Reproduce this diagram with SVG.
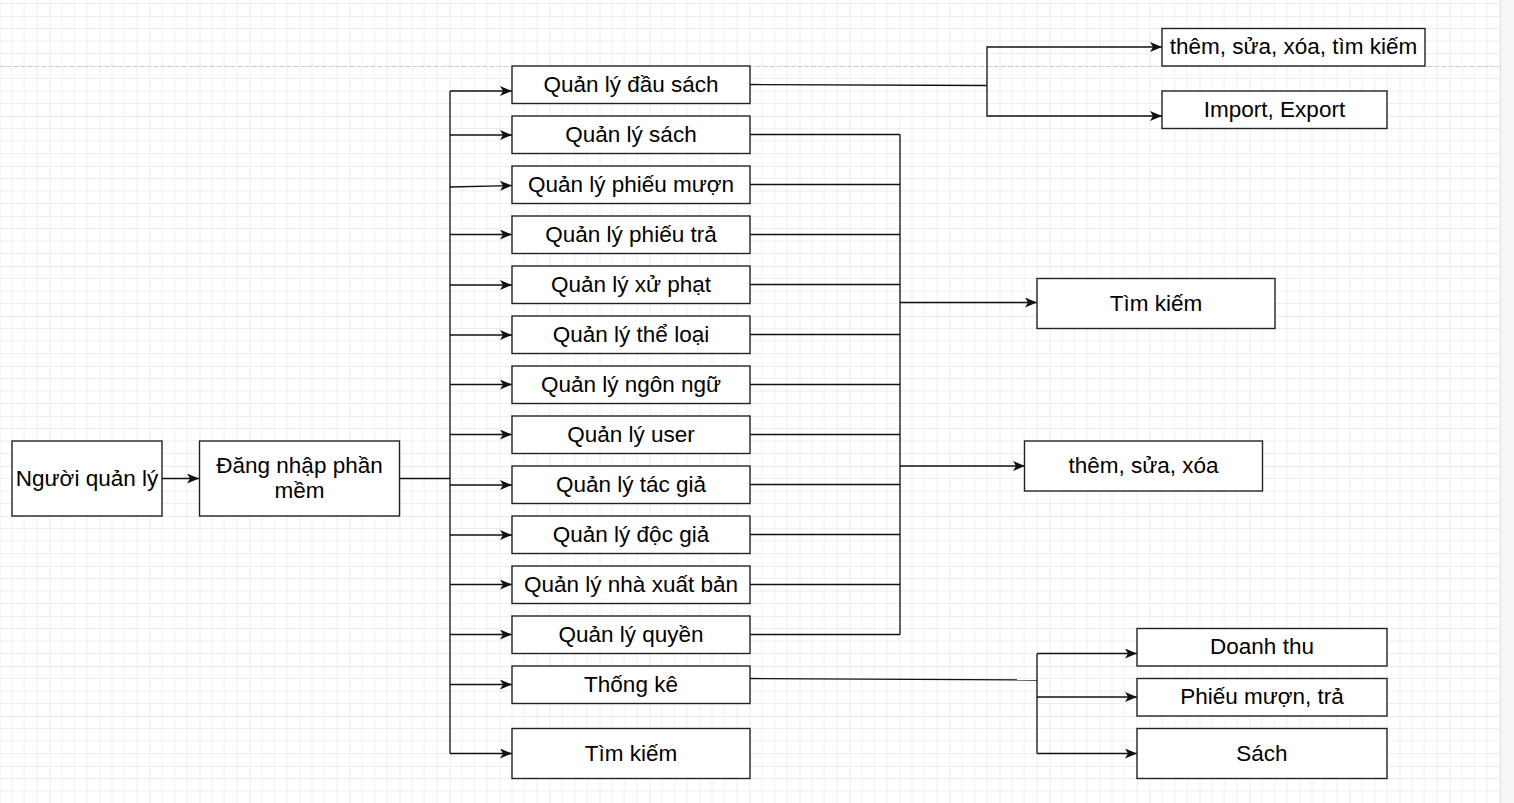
<svg xmlns="http://www.w3.org/2000/svg" width="1514" height="803" viewBox="0 0 1514 803">
<style>
.box{fill:#ffffff;stroke:#222222;stroke-width:1.4}
.lbl{font-family:"Liberation Sans",Arial,sans-serif;font-size:22.5px;fill:#000000;text-anchor:middle}
.ln{fill:none;stroke:#111111;stroke-width:1.3}
.ar{fill:none;stroke:#111111;stroke-width:1.3;marker-end:url(#arr)}
</style>
<defs>
<pattern id="grid" patternUnits="userSpaceOnUse" x="-0.5" y="16" width="50" height="50">
<path d="M12.5,0V50M25,0V50M37.5,0V50M0,12.5H50M0,25H50M0,37.5H50" stroke="#efefef" stroke-width="1" fill="none"/>
<path d="M0,0V50M0,0H50" stroke="#dadada" stroke-width="1" fill="none"/>
</pattern>
<marker id="arr" viewBox="0 0 12 10" refX="12" refY="5" markerUnits="userSpaceOnUse" markerWidth="12" markerHeight="10" orient="auto">
<path d="M0,0L12,5L0,10L3,5Z" fill="#111111"/>
</marker>
</defs>
<rect x="0" y="0" width="1514" height="803" fill="#ffffff"/>
<rect x="0" y="0" width="1500" height="803" fill="url(#grid)"/>
<rect x="1500" y="0" width="14" height="803" fill="#f6f6f8"/>
<line x1="1500.5" y1="0" x2="1500.5" y2="803" stroke="#e2e2e2" stroke-width="1"/>
<line x1="0" y1="66.5" x2="1500" y2="66.5" stroke="#c9c9c9" stroke-width="1.2" stroke-dasharray="4,3"/>

<g id="connectors">
<path class="ar" d="M162,478.5H199"/>
<path class="ln" d="M399,478.5H450"/>
<path class="ln" d="M450,91V753.5"/>
<path class="ar" d="M450,91H512"/>
<path class="ar" d="M450,135H512"/>
<path class="ar" d="M450,187L512,185.5"/>
<path class="ar" d="M450,234.5H512"/>
<path class="ar" d="M450,285H512"/>
<path class="ar" d="M450,335H512"/>
<path class="ar" d="M450,384.5H512"/>
<path class="ar" d="M450,434.5H512"/>
<path class="ar" d="M450,485H512"/>
<path class="ar" d="M450,535H512"/>
<path class="ar" d="M450,584.5H512"/>
<path class="ar" d="M450,634.5H512"/>
<path class="ar" d="M450,684.5H512"/>
<path class="ar" d="M450,753.5H512"/>

<path class="ln" d="M750,84.5L987,85.5"/>
<path class="ar" d="M987,85.5V47H1162"/>
<path class="ar" d="M987,85.5V116H1162"/>

<path class="ln" d="M750,134.5H900M750,184.5H900M750,234.5H900M750,284.5H900M750,334.5H900M750,384.5H900M750,434.5H900M750,484.5H900M750,534.5H900M750,584.5H900M750,634.5H900"/>
<path class="ln" d="M900,134.5V634.5"/>
<path class="ar" d="M900,302.5H1037"/>
<path class="ar" d="M900,466H1025"/>

<path class="ln" d="M750,678.5L1037,680"/>
<path class="ln" d="M1037,653.5V753.5"/>
<path class="ar" d="M1037,653.5H1137"/>
<path class="ar" d="M1037,697H1137"/>
<path class="ar" d="M1037,753.5H1137"/>
</g>

<g id="n-nguoi"><rect class="box" x="12" y="441" width="150" height="75"/><text class="lbl" x="87" y="485.5">Người quản lý</text></g>
<g id="n-dangnhap"><rect class="box" x="199.5" y="441" width="200" height="75"/><text class="lbl" x="299.5" y="473">Đăng nhập phần</text><text class="lbl" x="299.5" y="498">mềm</text></g>

<g id="n-dausach"><rect class="box" x="512" y="66" width="238" height="37.5"/><text class="lbl" x="631" y="91.5">Quản lý đầu sách</text></g>
<g id="n-sach"><rect class="box" x="512" y="116" width="238" height="37.5"/><text class="lbl" x="631" y="141.5">Quản lý sách</text></g>
<g id="n-phieumuon"><rect class="box" x="512" y="166" width="238" height="37.5"/><text class="lbl" x="631" y="191.5">Quản lý phiếu mượn</text></g>
<g id="n-phieutra"><rect class="box" x="512" y="216" width="238" height="37.5"/><text class="lbl" x="631" y="241.5">Quản lý phiếu trả</text></g>
<g id="n-xuphat"><rect class="box" x="512" y="266" width="238" height="37.5"/><text class="lbl" x="631" y="291.5">Quản lý xử phạt</text></g>
<g id="n-theloai"><rect class="box" x="512" y="316" width="238" height="37.5"/><text class="lbl" x="631" y="341.5">Quản lý thể loại</text></g>
<g id="n-ngonngu"><rect class="box" x="512" y="366" width="238" height="37.5"/><text class="lbl" x="631" y="391.5">Quản lý ngôn ngữ</text></g>
<g id="n-user"><rect class="box" x="512" y="416" width="238" height="37.5"/><text class="lbl" x="631" y="441.5">Quản lý user</text></g>
<g id="n-tacgia"><rect class="box" x="512" y="466" width="238" height="37.5"/><text class="lbl" x="631" y="491.5">Quản lý tác giả</text></g>
<g id="n-docgia"><rect class="box" x="512" y="516" width="238" height="37.5"/><text class="lbl" x="631" y="541.5">Quản lý độc giả</text></g>
<g id="n-nxb"><rect class="box" x="512" y="566" width="238" height="37.5"/><text class="lbl" x="631" y="591.5">Quản lý nhà xuất bản</text></g>
<g id="n-quyen"><rect class="box" x="512" y="616" width="238" height="37.5"/><text class="lbl" x="631" y="641.5">Quản lý quyền</text></g>
<g id="n-thongke"><rect class="box" x="512" y="666" width="238" height="37.5"/><text class="lbl" x="631" y="691.5">Thống kê</text></g>
<g id="n-timkiem1"><rect class="box" x="512" y="728.5" width="238" height="50"/><text class="lbl" x="631" y="760.5">Tìm kiếm</text></g>

<g id="n-themsuaxoatim"><rect class="box" x="1162" y="28.5" width="263" height="37.5"/><text class="lbl" x="1293.5" y="54">thêm, sửa, xóa, tìm kiếm</text></g>
<g id="n-import"><rect class="box" x="1162" y="91" width="225" height="37.5"/><text class="lbl" x="1274.5" y="116.5">Import, Export</text></g>
<g id="n-timkiem2"><rect class="box" x="1037" y="278.5" width="238" height="50"/><text class="lbl" x="1156" y="310.5">Tìm kiếm</text></g>
<g id="n-themsuaxoa"><rect class="box" x="1024.5" y="441" width="238" height="50"/><text class="lbl" x="1143.5" y="473">thêm, sửa, xóa</text></g>
<g id="n-doanhthu"><rect class="box" x="1137" y="628.5" width="250" height="37.5"/><text class="lbl" x="1262" y="654">Doanh thu</text></g>
<g id="n-phieumuontra"><rect class="box" x="1137" y="678.5" width="250" height="37.5"/><text class="lbl" x="1262" y="704">Phiếu mượn, trả</text></g>
<g id="n-sach2"><rect class="box" x="1137" y="728.5" width="250" height="50"/><text class="lbl" x="1262" y="760.5">Sách</text></g>
</svg>
